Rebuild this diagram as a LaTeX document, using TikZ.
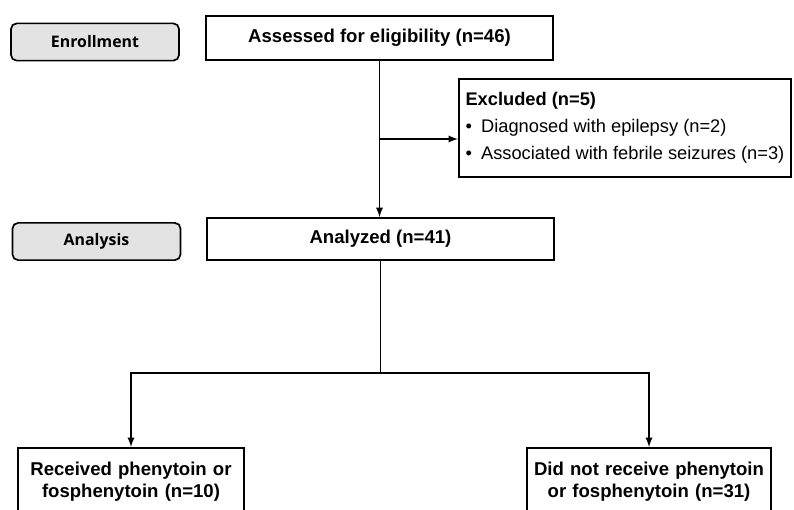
\documentclass[tikz,border=0pt]{standalone}
\usepackage{fontspec}
\setmainfont{Liberation Sans}
\newfontfamily\stagefont{Open Sans}
\usetikzlibrary{positioning}
\tikzset{
  stagebox/.style={draw, rounded corners=4pt, fill=gray!22, line width=1.2pt,
    minimum width=4.2cm, minimum height=0.93cm,
    font=\stagefont\bfseries\fontsize{11.3}{13}\selectfont},
  flowbox/.style={draw, line width=1.3pt, align=center,
    font=\bfseries\fontsize{13.2}{16}\selectfont},
  flowline/.style={line width=1.3pt},
}
\begin{document}
\begin{tikzpicture}[x=0.025cm,y=-0.025cm]
	\clip (0,0) rectangle (794,509);
	\fill[white] (0,0) rectangle (794,509);
	% stage labels
	\node[stagebox] (enrol) at (95,42) {Enrollment};
	\node[stagebox] (analysis) at (96.5,241.5) {Analysis};
	% flow boxes
	\node[flowbox, minimum width=8.675cm, minimum height=1.1cm] (assess) at (379.5,38) {Assessed for eligibility (n=46)};
	\node[flowbox, minimum width=8.675cm, minimum height=1.05cm] (analyzed) at (380.5,239) {Analyzed (n=41)};
	\node[draw, line width=1.3pt, anchor=north west, align=left, inner xsep=0.15cm,
		minimum width=8.3cm, minimum height=2.45cm, font=\fontsize{13}{15.5}\selectfont] (excl) at (458,78)
		{{\bfseries Excluded (n=5)}\\[3.5pt]
		 \textbullet\enspace Diagnosed with epilepsy (n=2)\\[3.5pt]
		 \textbullet\enspace Associated with febrile seizures (n=3)};
	\node[flowbox, anchor=north, text width=5.4cm, inner ysep=10pt] (recv) at (131,447)
		{Received phenytoin or\\fosphenytoin (n=10)};
	\node[flowbox, anchor=north, text width=5.85cm, inner ysep=10pt] (norecv) at (649,447)
		{Did not receive phenytoin\\or fosphenytoin (n=31)};
	% connectors
	\coordinate (excljoin) at (assess.south |- 0,139);
	\coordinate (split) at (analyzed.south |- 0,373);
	\draw[flowline, -latex] (assess.south) -- (assess.south |- analyzed.north);
	\draw[flowline, -latex] (excljoin) -- (excljoin -| excl.west);
	\draw[flowline] (analyzed.south) -- (split);
	\draw[flowline, -latex] (split) -| (recv.north);
	\draw[flowline, -latex] (split) -| (norecv.north);
\end{tikzpicture}
\end{document}
